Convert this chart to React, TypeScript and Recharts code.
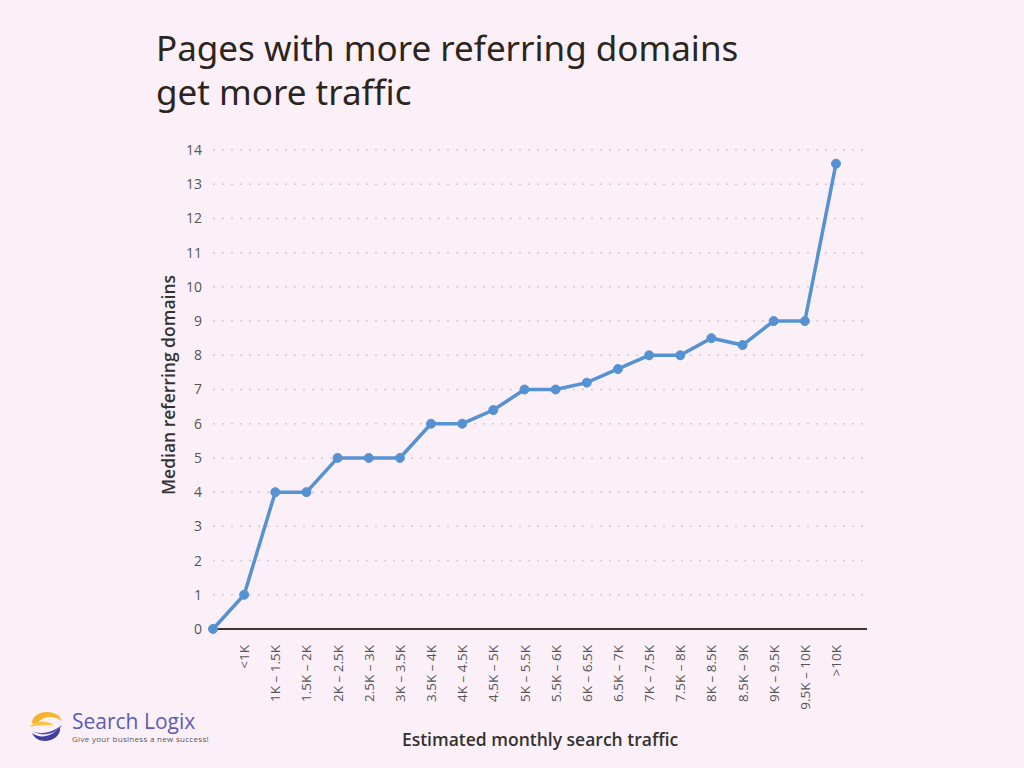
import { LineChart, Line, XAxis, YAxis, CartesianGrid } from "recharts";

const categories = [
  "", "<1K", "1K – 1.5K", "1.5K – 2K", "2K – 2.5K", "2.5K – 3K", "3K – 3.5K",
  "3.5K – 4K", "4K – 4.5K", "4.5K – 5K", "5K – 5.5K", "5.5K – 6K", "6K – 6.5K",
  "6.5K – 7K", "7K – 7.5K", "7.5K – 8K", "8K – 8.5K", "8.5K – 9K", "9K – 9.5K",
  "9.5K – 10K", ">10K",
];
const medianDomains = [0, 1, 4, 4, 5, 5, 5, 6, 6, 6.4, 7, 7, 7.2, 7.6, 8, 8, 8.5, 8.3, 9, 9, 13.6];
const yTicks = [0, 1, 2, 3, 4, 5, 6, 7, 8, 9, 10, 11, 12, 13, 14];

const chartData = categories.map((c, i) => ({ range: c, value: medianDomains[i] }));

const bg = "#fcf0f8";
const font = "'Open Sans', 'Noto Sans', sans-serif";

function XTick(props: any) {
  const { x, y, payload } = props;
  return (
    <text
      x={x}
      y={y}
      transform={`rotate(-90, ${x}, ${y})`}
      textAnchor="end"
      dominantBaseline="central"
      fontSize={13.5}
      fontFamily={font}
      fill="#555"
    >
      {payload.value}
    </text>
  );
}

function Logo() {
  return (
    <div style={{ position: "absolute", left: 26, top: 705, display: "flex", alignItems: "center" }}>
      <svg width={40} height={42} viewBox="0 0 40 42">
        <path d="M6 18 C6 6 30 2 36 16 C28 10 16 10 10 20 Z" fill="#f4b32a" />
        <path d="M4 22 C10 14 22 16 28 20 C22 20 14 20 4 22 Z" fill="#f7c64a" />
        <path d="M34 22 C36 36 12 42 6 28 C14 34 26 32 34 22 Z" fill="#3d3f9c" />
        <path d="M6 26 C14 30 26 28 36 20 C30 30 16 32 6 26 Z" fill="#5254b8" />
      </svg>
      <div style={{ marginLeft: 6, fontFamily: "'Open Sans', sans-serif", color: "#5b5bb5" }}>
        <div style={{ fontSize: 21, lineHeight: "24px" }}>Search Logix</div>
        <div style={{ fontSize: 8, color: "#555", letterSpacing: 0.3 }}>Give your business a new success!</div>
      </div>
    </div>
  );
}

export default function App() {
  return (
    <div style={{ position: "absolute", left: 0, top: 0, width: 1024, height: 768, background: bg, overflow: "hidden" }}>
      <div
        style={{
          position: "absolute",
          left: 156,
          top: 26,
          fontFamily: "'Noto Sans', sans-serif",
          fontSize: 35,
          lineHeight: "44px",
          color: "#2b2520",
        }}
      >
        Pages with more referring domains
        <br />
        get more traffic
      </div>
      <LineChart
        width={1024}
        height={768}
        data={chartData}
        margin={{ top: 150, right: 157, bottom: 39, left: 153 }}
        style={{ position: "absolute", left: 0, top: 0 }}
      >
        <CartesianGrid vertical={false} stroke="#d2cad0" strokeDasharray="2 7" strokeWidth={1.5} />
        <XAxis
          dataKey="range"
          interval={0}
          tick={<XTick />}
          tickLine={false}
          axisLine={{ stroke: "#3e3631", strokeWidth: 2 }}
          tickMargin={10}
          padding={{ left: 0, right: 31 }}
          height={100}
        />
        <YAxis
          domain={[0, 14]}
          ticks={yTicks}
          interval={0}
          width={60}
          axisLine={false}
          tickLine={false}
          tickMargin={5}
          tick={{ fontSize: 14, fill: "#555", fontFamily: font }}
        />
        <Line
          type="linear"
          dataKey="value"
          stroke="#5692d2"
          strokeWidth={3.5}
          dot={{ r: 4.5, fill: "#5692d2", stroke: "#5692d2", strokeWidth: 1 }}
          isAnimationActive={false}
        />
      </LineChart>
      <div
        style={{
          position: "absolute",
          left: 168,
          top: 385,
          transform: "translate(-50%, -50%) rotate(-90deg)",
          whiteSpace: "nowrap",
          fontFamily: font,
          fontSize: 17.5,
          fontWeight: 600,
          color: "#333",
        }}
      >
        Median referring domains
      </div>
      <div
        style={{
          position: "absolute",
          left: 540,
          top: 739,
          transform: "translate(-50%, -50%)",
          whiteSpace: "nowrap",
          fontFamily: font,
          fontSize: 17.5,
          fontWeight: 600,
          color: "#333",
        }}
      >
        Estimated monthly search traffic
      </div>
      <Logo />
    </div>
  );
}
